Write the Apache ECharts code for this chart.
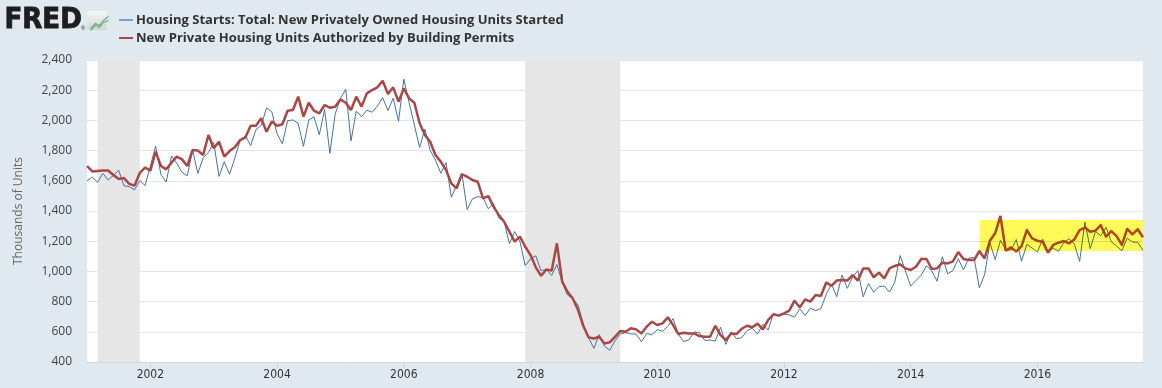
<!DOCTYPE html>
<html>
<head>
<meta charset="utf-8">
<script src="https://cdn.jsdelivr.net/npm/echarts@6/dist/echarts.min.js"></script>
<style>
html,body{margin:0;padding:0;background:#e1e9f0;}
#chart{width:1162px;height:388px;}
</style>
</head>
<body>
<div id="chart"></div>
<script>
// Monthly categories, Jan 2001 .. Sep 2017
const START_YEAR = 2001;
const N_MONTHS = 201;
const months = [];
for (let i = 0; i < N_MONTHS; i++) {
  const y = START_YEAR + Math.floor(i / 12);
  const m = (i % 12) + 1;
  months.push(y + '-' + (m < 10 ? '0' + m : m));
}

const seriesNames = [
  'Housing Starts: Total: New Privately Owned Housing Units Started',
  'New Private Housing Units Authorized by Building Permits'
];

// Housing starts (thousands of units, SAAR)
const housingStarts = [
  1600,1625,1590,1649,1605,1636,1670,1567,1562,1540,1602,1568,
  1698,1829,1642,1592,1764,1717,1655,1633,1804,1648,1753,1788,
  1853,1629,1726,1643,1751,1867,1897,1833,1939,1967,2083,2057,
  1911,1846,1998,2003,1981,1828,2002,2024,1905,2072,1782,2042,
  2144,2207,1864,2061,2025,2068,2054,2095,2151,2065,2147,1994,
  2273,2119,1969,1821,1942,1802,1737,1650,1720,1491,1570,1649,
  1409,1480,1495,1490,1415,1448,1354,1330,1183,1264,1197,1037,
  1084,1103,1005,1013,973,1046,927,844,820,777,652,560,
  490,582,505,478,540,585,594,586,585,534,588,581,
  614,604,636,687,583,536,546,599,594,543,545,539,
  630,517,600,554,561,608,623,585,650,611,720,705,
  717,712,697,753,708,757,740,754,847,915,833,976,
  888,962,1005,831,919,862,899,903,863,930,1105,1003,
  903,940,975,1038,1002,935,1097,984,1005,1084,1010,1088,
  1093,891,978,1190,1079,1205,1146,1140,1211,1067,1179,1155,
  1128,1214,1130,1154,1133,1190,1217,1180,1066,1327,1151,1265,
  1236,1292,1196,1168,1137,1220,1195,1192,1140
];

// Building permits (thousands of units, SAAR)
const buildingPermits = [
  1698,1662,1665,1668,1668,1638,1612,1618,1580,1568,1652,1688,
  1667,1793,1698,1676,1720,1760,1742,1698,1804,1800,1771,1903,
  1815,1859,1760,1797,1822,1870,1888,1965,1965,2014,1925,1992,
  1965,1974,2064,2069,2157,2025,2117,2064,2047,2102,2084,2090,
  2139,2117,2069,2157,2091,2179,2201,2219,2263,2175,2219,2124,
  2212,2146,2117,1981,1903,1859,1771,1727,1671,1583,1550,1643,
  1627,1605,1594,1484,1499,1429,1373,1329,1263,1197,1230,1163,
  1108,1027,971,1013,1005,1186,932,865,821,744,638,563,
  556,567,523,530,567,605,600,623,616,589,634,667,
  645,656,696,645,585,594,589,589,572,567,567,640,
  578,545,589,585,620,640,630,654,616,678,716,707,
  722,740,806,762,815,800,844,837,927,905,939,943,
  939,976,939,1020,1020,961,992,954,1020,1036,1047,1020,
  1009,1031,1082,1082,1016,1020,1058,1053,1066,1128,1082,1075,
  1075,1135,1086,1203,1252,1367,1137,1159,1131,1168,1274,1219,
  1203,1197,1124,1175,1190,1201,1186,1212,1274,1290,1263,1270,
  1307,1230,1267,1234,1175,1281,1245,1279,1226
];

// Recessions (shaded)
const recessions = [
  ['2001-03', '2001-11'],
  ['2007-12', '2009-06']
];

// Highlighted region
const highlightMonths = ['2015-02', '2017-09'];
const highlightValues = [1135, 1340];

// Y axis ticks
const yMin = 400, yMax = 2400, yStep = 200;

const chart = echarts.init(document.getElementById('chart'), null, {renderer: 'canvas'});

const showYearTick = function (idx, val) {
  const y = parseInt(val.slice(0, 4), 10);
  return val.slice(5) === '01' && y % 2 === 0;
};

const BLUE = '#4572a7', RED = '#aa4643';
// colours of the lines as seen through the yellow highlighter
const BLUE_HL = '#4a7436', RED_HL = '#b0451a', YELLOW_HL = 'rgb(255,250,88)';

const option = {
  animation: false,
  backgroundColor: '#e1e9f0',
  textStyle: {fontFamily: 'Open Sans, sans-serif'},
  legend: {
    orient: 'vertical',
    left: 114,
    top: 7,
    itemGap: 2,
    itemWidth: 14,
    itemHeight: 2,
    icon: 'rect',
    selectedMode: false,
    textStyle: {
      fontFamily: 'Open Sans, sans-serif',
      fontSize: 13,
      fontWeight: 'bold',
      color: '#333',
      lineHeight: 16,
      padding: [0, 0, 0, -2]
    },
    data: [
      {name: seriesNames[0], itemStyle: {color: '#7f9fcb'}},
      {name: seriesNames[1], itemStyle: {color: '#aa4643'}}
    ]
  },
  graphic: [
    {type: 'text', left: 4, top: 6, style: {text: 'FRED', font: 'bold 29px "DejaVu Sans Condensed", "DejaVu Sans", sans-serif', fill: '#1e1e1e', stroke: '#1e1e1e', lineWidth: 0.8}},
    {type: 'text', left: 81, top: 25, style: {text: '®', font: '6px sans-serif', fill: '#222'}},
    {type: 'rect', left: 87, top: 11, shape: {width: 20, height: 19, r: 2},
      style: {fill: new echarts.graphic.LinearGradient(0, 0, 0, 1, [{offset: 0, color: '#f4f6f4'}, {offset: 1, color: '#cfd8cf'}])}},
    {type: 'polyline', left: 88, top: 14, shape: {points: [[0, 12], [5, 7], [9, 9], [13, 4], [18, 0]]}, style: {stroke: '#6f9acb', lineWidth: 1.2, fill: null}},
    {type: 'polyline', left: 88, top: 18, shape: {points: [[0, 11], [5, 6], [9, 8], [13, 3], [18, 1]]}, style: {stroke: '#7ab648', lineWidth: 1.2, fill: null}}
  ],
  grid: {
    left: 87, right: 19, top: 60, bottom: 26,
    show: true, backgroundColor: '#ffffff', borderWidth: 0
  },
  xAxis: {
    type: 'category',
    data: months,
    boundaryGap: false,
    axisLine: {show: true, lineStyle: {color: '#ccd6eb', width: 1}},
    axisTick: {show: true, interval: showYearTick, length: 6, lineStyle: {color: '#ccd6eb'}},
    axisLabel: {
      interval: showYearTick,
      formatter: function (v) { return v.slice(0, 4); },
      fontFamily: '"DejaVu Sans Condensed", "Liberation Sans Narrow", sans-serif',
      fontSize: 12,
      color: '#333',
      margin: 7
    },
    splitLine: {show: false}
  },
  yAxis: {
    type: 'value',
    min: yMin, max: yMax, interval: yStep,
    name: 'Thousands of Units',
    nameLocation: 'middle',
    nameGap: 62,
    nameTextStyle: {fontFamily: 'Open Sans, sans-serif', fontSize: 12, color: '#666'},
    axisLine: {show: false},
    axisTick: {show: false},
    axisLabel: {
      fontFamily: 'Open Sans, sans-serif',
      fontSize: 12,
      color: '#444',
      margin: 15,
      formatter: function (v) { return v.toLocaleString('en-US'); }
    },
    splitLine: {lineStyle: {color: '#e6e6e6', width: 1}}
  },
  series: [
    {
      name: seriesNames[0],
      type: 'line',
      data: housingStarts,
      symbol: 'none',
      z: 3,
      lineStyle: {color: BLUE, width: 1},
      itemStyle: {color: BLUE},
      markArea: {
        silent: true,
        itemStyle: {color: '#e6e6e6'},
        data: recessions.map(function (r) { return [{xAxis: r[0]}, {xAxis: r[1]}]; })
      }
    },
    {
      name: seriesNames[1],
      type: 'line',
      data: buildingPermits,
      symbol: 'none',
      z: 4,
      lineStyle: {color: RED, width: 2.5},
      itemStyle: {color: RED}
    },
    {
      // yellow highlighter box, drawn on top; the lines under it are redrawn in the tinted colours
      name: 'highlight',
      type: 'custom',
      z: 10,
      silent: true,
      encode: {x: [0, 1], y: [2, 3]},
      data: [[months.indexOf(highlightMonths[0]), months.indexOf(highlightMonths[1]), highlightValues[0], highlightValues[1]]],
      renderItem: function (params, api) {
        const p0 = api.coord([api.value(0), api.value(3)]);
        const p1 = api.coord([api.value(1), api.value(2)]);
        const box = {x: p0[0], y: p0[1], width: p1[0] - p0[0], height: p1[1] - p0[1]};
        const bluePts = housingStarts.map(function (v, i) { return api.coord([i, v]); });
        const redPts = buildingPermits.map(function (v, i) { return api.coord([i, v]); });
        const gridLines = [];
        for (let v = yMin; v <= yMax; v += yStep) {
          const a = api.coord([0, v]), b = api.coord([N_MONTHS - 1, v]);
          gridLines.push({type: 'line', shape: {x1: a[0], y1: Math.round(a[1]) + 0.5, x2: b[0], y2: Math.round(b[1]) + 0.5},
            style: {stroke: '#e0dc4d', lineWidth: 1}});
        }
        return {
          type: 'group',
          clipPath: {type: 'rect', shape: box},
          children: [
            {type: 'rect', shape: box, style: {fill: YELLOW_HL}}
          ].concat(gridLines).concat([
            {type: 'polyline', shape: {points: bluePts}, style: {stroke: BLUE_HL, lineWidth: 1, fill: null, lineJoin: 'round'}},
            {type: 'polyline', shape: {points: redPts}, style: {stroke: RED_HL, lineWidth: 2.5, fill: null, lineJoin: 'round'}}
          ])
        };
      }
    }
  ]
};

chart.setOption(option);
</script>
</body>
</html>
